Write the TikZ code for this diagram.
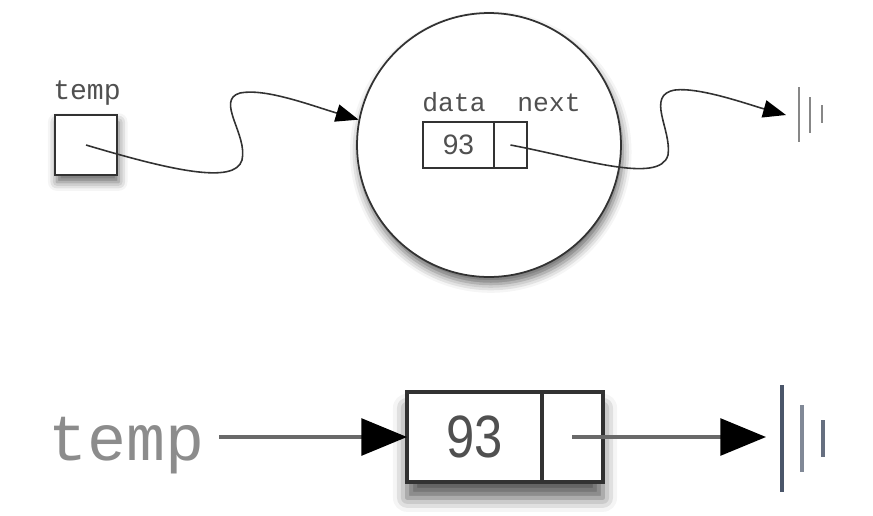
\documentclass[tikz,border=0pt]{standalone}
\usepackage{fontspec}
\setmainfont{Liberation Sans}
\setsansfont{Liberation Sans}
\setmonofont{Liberation Mono}
\usepackage{tikz}
\usetikzlibrary{arrows.meta, positioning, shadows, shadows.blur, fit, backgrounds}
\definecolor{inkline}{RGB}{50, 50, 50}
\definecolor{labelgray}{RGB}{80, 80, 80}
\definecolor{lightlabel}{RGB}{140, 140, 140}
\definecolor{flowgray}{RGB}{105, 105, 105}
\definecolor{nullgray}{RGB}{135, 135, 135}
\definecolor{nullslate}{RGB}{75, 86, 106}
\tikzset{
  x=0.02cm, y=-0.02cm,
  softshadow/.style={
    blur shadow={shadow xshift=1pt, shadow yshift=-4pt,
      shadow blur radius=5pt, shadow opacity=60}
  },
  boxshadow/.style={
    blur shadow={shadow xshift=0pt, shadow yshift=-9pt,
      shadow blur radius=8pt, shadow opacity=65}
  },
  smallcell/.style={
    rectangle, draw=inkline, line width=0.9pt, fill=white,
    minimum height=0.92cm, inner sep=0pt, outer sep=0pt,
    font=\sffamily\fontsize{16}{16}\selectfont, text=labelgray
  },
  bigcell/.style={
    rectangle, draw=inkline, line width=2pt, fill=white,
    minimum height=1.8cm, inner sep=0pt, outer sep=0pt,
    font=\sffamily\fontsize{34}{34}\selectfont, text=labelgray
  },
  ttlabel/.style={
    font=\ttfamily\fontsize{15}{15}\selectfont, text=labelgray,
    inner sep=0pt, anchor=base
  },
  thinflow/.style={
    draw=inkline, line width=0.9pt, -{Triangle[length=13pt, width=10pt, color=black]}
  },
  thickflow/.style={
    draw=flowgray, line width=1.8pt, -{Triangle[length=26pt, width=21pt, color=black]}
  }
}
\begin{document}
\begin{tikzpicture}
  \useasboundingbox (0,0) rectangle (873,515);

  % node in memory
  \node[ttlabel, font=\ttfamily\fontsize{16}{16}\selectfont] (tmp_label) at (87,99) {temp};
  \node[rectangle, draw=inkline, line width=1pt, fill=white, softshadow,
    minimum width=1.24cm, minimum height=1.2cm] (tmp_a) at (86,145) {};

  \node[circle, draw=inkline, line width=1pt, fill=white, softshadow,
    minimum size=5.28cm] (node_a) at (489,145) {};
  \node[ttlabel] (data_label) at (454,111) {data};
  \node[ttlabel] (next_label) at (549,111) {next};
  \node[smallcell, minimum width=1.42cm] (val_a) at (458.5,145) {93};
  \node[smallcell, minimum width=0.66cm, right=0pt of val_a] (ptr_a) {};
  \coordinate (end_a) at (786,115);

  \draw[thinflow] (tmp_a.center) .. controls (170,170) and (235,185) .. (242,160)
    .. controls (248,135) and (215,100) .. (240,93)
    .. controls (265,88) and (310,105) .. (node_a.169);
  \draw[thinflow] (ptr_a.center) .. controls (580,158) and (660,185) .. (668,155)
    .. controls (672,130) and (645,95) .. (675,90)
    .. controls (700,87) and (750,105) .. (end_a);

  \draw[nullgray, line width=1.5pt] (799,87) -- (799,142);
  \draw[nullgray, line width=1.2pt] (810,97) -- (810,133);
  \draw[nullgray, line width=1.2pt] (822,105) -- (822,123);

  % simplified picture
  \node[font=\ttfamily\fontsize{37}{37}\selectfont, text=lightlabel,
    inner xsep=8pt, inner ysep=0pt, anchor=base] (tmp_b) at (127,460) {temp};
  \node[bigcell, minimum width=2.7cm] (val_b) at (474.5,437) {\scalebox{0.85}[1]{93}};
  \node[bigcell, minimum width=1.22cm, right=0pt of val_b] (ptr_b) {};
  \begin{scope}[on background layer]
    \node[fit=(val_b)(ptr_b), inner sep=0pt, fill=white, boxshadow] (box_b) {};
  \end{scope}
  \coordinate (end_b) at (766,437);

  \draw[thickflow] (tmp_b.east |- val_b.west) -- (val_b.west);
  \draw[thickflow] (ptr_b.center) -- (end_b);

  \draw[nullslate, line width=2.2pt] (782,385) -- (782,492);
  \draw[nullslate!70, line width=2pt] (802,405) -- (802,472);
  \draw[nullslate!85, line width=2pt] (823,420) -- (823,457);
\end{tikzpicture}
\end{document}
